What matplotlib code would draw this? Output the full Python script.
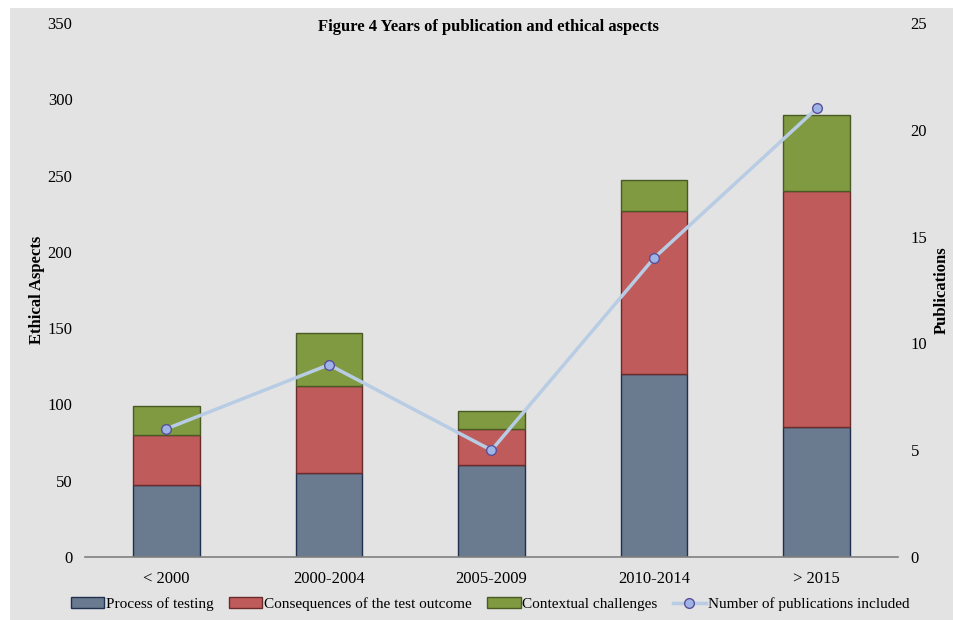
import matplotlib.pyplot as plt
import numpy as np
from matplotlib.patches import Rectangle

plt.rcParams['font.family'] = ['Liberation Serif', 'DejaVu Serif']

periods = ['< 2000', '2000-2004', '2005-2009', '2010-2014', '> 2015']
process = [47, 55, 60, 120, 85]
consequences = [33, 57, 24, 107, 155]
contextual = [19, 35, 12, 20, 50]
publications = [6, 9, 5, 14, 21]

bg = '#e3e3e3'
fig = plt.figure(figsize=(9.54, 6.2), dpi=100)
fig.patch.set_facecolor('white')
fig.add_artist(Rectangle((10/954, 0), 1, 1 - 8/620, transform=fig.transFigure,
                         facecolor=bg, edgecolor='none', zorder=-10))

ax = fig.add_axes([85/954, 63/620, 813/954, 534/620])
ax.patch.set_alpha(0)

x = np.arange(len(periods))
w = 0.41
p = np.array(process)
c = np.array(consequences)
g = np.array(contextual)
ax.bar(x, p, w, color='#6a7a8f', edgecolor='#1f3050', linewidth=1, label='Process of testing', zorder=2)
ax.bar(x, c, w, bottom=p, color='#c05b5b', edgecolor='#6b2b2b', linewidth=1,
       label='Consequences of the test outcome', zorder=2)
ax.bar(x, g, w, bottom=p + c, color='#809a41', edgecolor='#4a5a25', linewidth=1,
       label='Contextual challenges', zorder=2)

ax.set_xlim(-0.5, len(periods) - 0.5)
ax.set_ylim(0, 350)
ax.set_yticks(np.arange(0, 351, 50))
ax.set_xticks(x)
ax.set_xticklabels(periods)
for s in ['top', 'right', 'left']:
    ax.spines[s].set_visible(False)
ax.spines['bottom'].set_color('#808080')
ax.spines['bottom'].set_linewidth(1.2)
ax.tick_params(length=0, labelsize=12, pad=10)
ax.tick_params(axis='y', pad=9)
ax.set_ylabel('Ethical Aspects', fontsize=12, fontweight='bold', labelpad=2)

ax2 = ax.twinx()
ax2.set_ylim(0, 25)
ax2.set_yticks(np.arange(0, 26, 5))
for s in ax2.spines.values():
    s.set_visible(False)
ax2.tick_params(length=0, labelsize=12, pad=9)
ax2.plot(x, publications, color='#b8cce4', linewidth=2.5, marker='o', markersize=7,
         markerfacecolor='#9fb4e6', markeredgecolor='#5a4f98', markeredgewidth=1,
         label='Number of publications included', zorder=3)
ax2.set_ylabel('Publications', fontsize=12, fontweight='bold', labelpad=5)

fig.text(488/954, 1 - 27/620, 'Figure 4 Years of publication and ethical aspects',
         fontsize=12, fontweight='bold', ha='center', va='center')

h1, l1 = ax.get_legend_handles_labels()
h2, l2 = ax2.get_legend_handles_labels()
fig.legend(h1 + h2, l1 + l2, loc='center', bbox_to_anchor=(490/954, 1 - 604/620), ncol=4,
           frameon=False, fontsize=11, handlelength=2.2, handleheight=0.7,
           handletextpad=0.1, columnspacing=1.0)

fig.savefig('out.png', dpi=100, facecolor=fig.get_facecolor())
